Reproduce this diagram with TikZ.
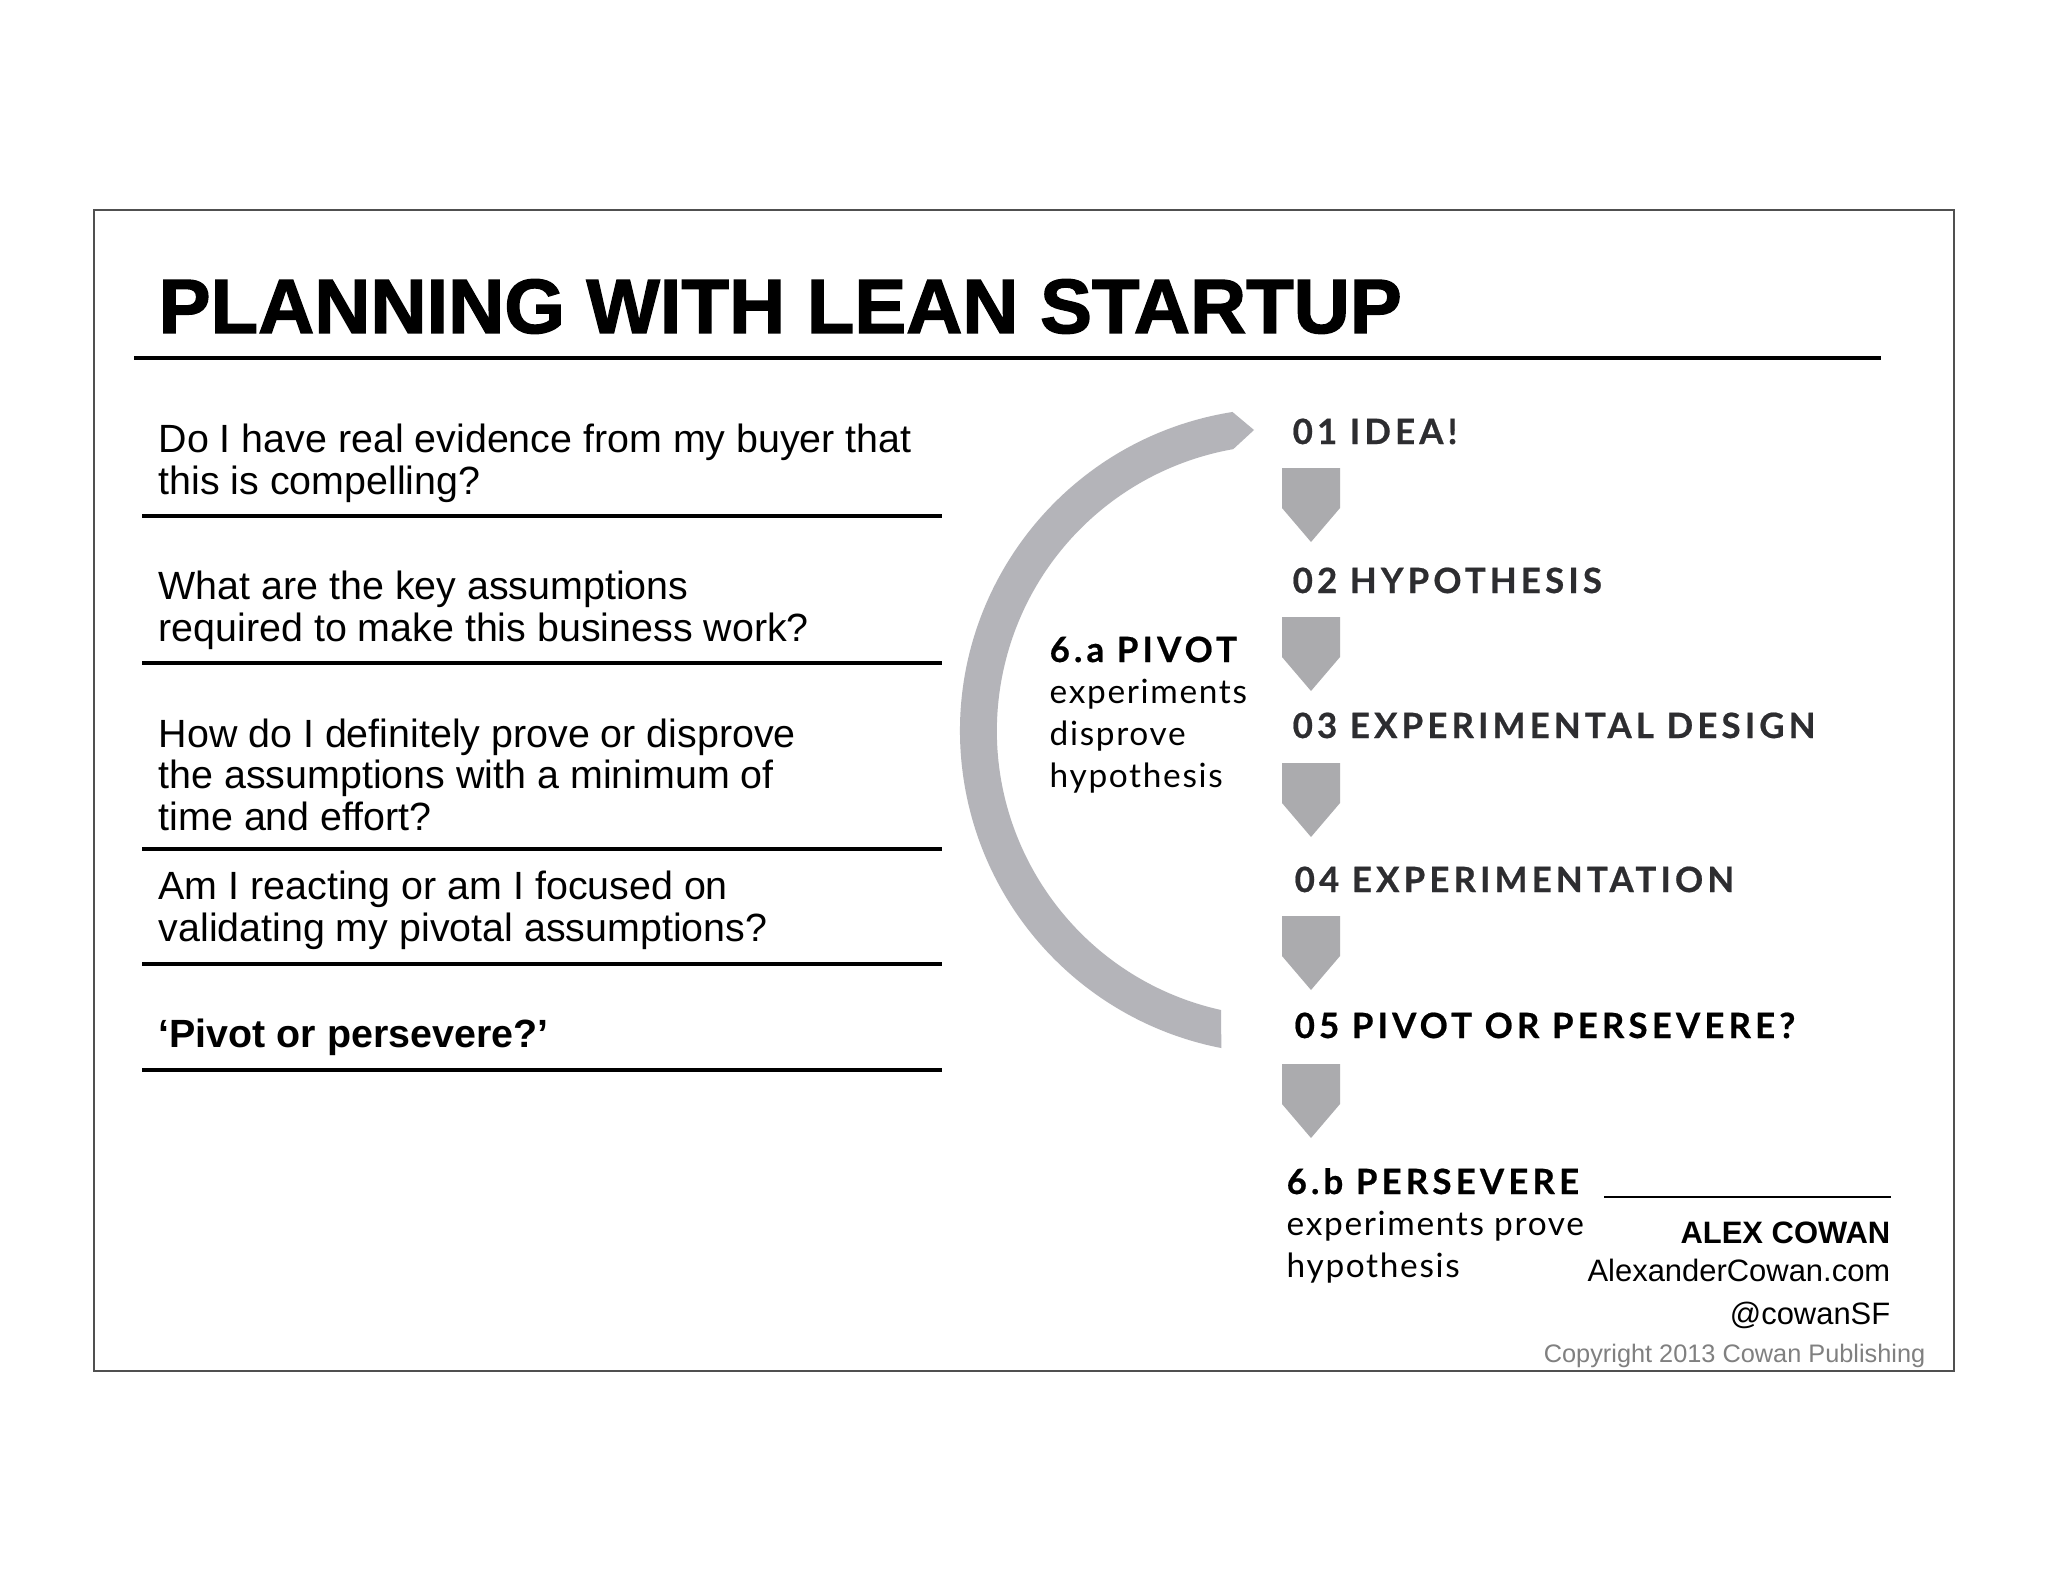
\documentclass[tikz,border=0pt]{standalone}
\usepackage{fontspec}
\setmainfont{Liberation Sans}
\newfontfamily\titlefont[FakeBold=1.8,FakeStretch=1.01]{Liberation Sans}
\newfontfamily\stepfont[LetterSpace=12,FakeBold=0.6]{Lato}
\newfontfamily\notefont[LetterSpace=5]{Lato}
\definecolor{arcgray}{RGB}{180,180,185}
\definecolor{stepgray}{RGB}{171,171,174}
\definecolor{labelgray}{RGB}{45,45,48}
\definecolor{framegray}{RGB}{80,80,80}
\begin{document}
\begin{tikzpicture}
      [x=0.01cm,y=-0.01cm,
       question/.style={anchor=base west,inner sep=0,align=left,
         font=\fontsize{11.2}{11.7}\selectfont},
       qrule/.style={line width=0.95pt},
       steplabel/.style={anchor=base west,inner sep=0,text=labelgray,
         font=\stepfont\bfseries\fontsize{9.9}{12}\selectfont},
       note/.style={anchor=base west,inner sep=0,align=left,
         font=\notefont\fontsize{9.5}{11.9}\selectfont},
       credit/.style={anchor=base east,inner sep=0,
         font=\fontsize{8.8}{10}\selectfont}]
      \useasboundingbox (0,0) rectangle (2048,1582);
      \fill[white] (0,0) rectangle (2048,1582);
      \draw[framegray,line width=0.5pt] (94,210) rectangle (1954,1371);
      \node[anchor=base west,inner sep=0,font=\titlefont\bfseries\fontsize{21.9}{24}\selectfont]
        (title) at (158,333) {PLANNING WITH LEAN STARTUP};
      \draw[line width=1.15pt] (134,358) -- (1881,358);
      % multi-line nodes sit on their last baseline
      \node[question] (q1) at (158,494) {Do I have real evidence from my buyer that\\this is compelling?};
      \node[question] (q2) at (158,641) {What are the key assumptions\\required to make this business work?};
      \node[question] (q3) at (158,830) {How do I definitely prove or disprove\\the assumptions with a minimum of\\time and effort?};
      \node[question] (q4) at (158,941) {Am I reacting or am I focused on\\validating my pivotal assumptions?};
      \node[question,font=\bfseries\fontsize{11.2}{11.7}\selectfont] (q5) at (158,1047) {‘Pivot or persevere?’};
      \foreach \y in {516,663,849,964,1070}
        \draw[qrule] (142,\y) -- (942,\y);
      \fill[arcgray,shift={(1283,731)}] (-99:323)
        arc[start angle=-99,end angle=-259,radius=323] -- (-62,279)
        arc[start angle=-257.5,end angle=-100,radius=286] -- (-29,-301) -- cycle;
      \node[steplabel,text=black] (pivot) at (1049,662) {6.a PIVOT};
      \node[note] (pivotnote) at (1049,787) {experiments\\disprove\\hypothesis};
      \node[steplabel] (idea) at (1292,444) {01 IDEA!};
      \node[steplabel] (hypo) at (1292,593) {02 HYPOTHESIS};
      \node[steplabel] (design) at (1292,738) {03 EXPERIMENTAL DESIGN};
      \node[steplabel] (expt) at (1294,892) {04 EXPERIMENTATION};
      \node[steplabel,text=black] (decide) at (1294,1038) {05 PIVOT OR PERSEVERE?};
      \foreach \t in {468,617,763,916,1064}
        \fill[stepgray] (1282,\t) -- ++(58,0) -- ++(0,40) -- ++(-29,34) -- ++(-29,-34) -- cycle;
      \node[steplabel,text=black] (persevere) at (1286,1194) {6.b PERSEVERE};
      \draw[line width=0.8pt] (1604,1197) -- (1891,1197);
      \node[note] (persnote) at (1286,1277) {experiments prove\\hypothesis};
      \node[credit,font=\bfseries\fontsize{8.8}{10}\selectfont] (author) at (1891,1243) {ALEX COWAN};
      \node[credit] (site) at (1891,1281) {AlexanderCowan.com};
      \node[credit] (handle) at (1891,1324) {@cowanSF};
      \node[credit,text=gray,font=\fontsize{7.2}{9}\selectfont] (copy) at (1926,1362) {Copyright 2013 Cowan Publishing};
    \end{tikzpicture}
\end{document}
